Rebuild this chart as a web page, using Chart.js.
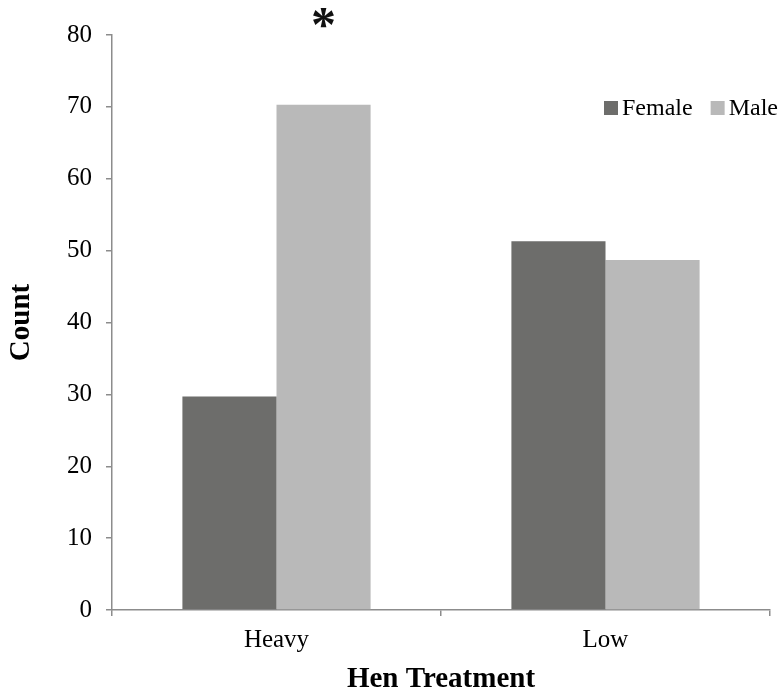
<!DOCTYPE html>
<html lang="en">
<head>
  <meta charset="UTF-8" />
  <title>Hen Treatment Count</title>
  <script src="https://cdn.jsdelivr.net/npm/chart.js"></script>
  <style>
    html, body { margin: 0; padding: 0; background: #fff; }
    #wrap { width: 780px; height: 691px; }
  </style>
</head>
<body>
  <div id="wrap"><canvas id="chart" width="780" height="691"></canvas></div>

  <script>
    // data
    const categories = ['Heavy', 'Low'];
    const femaleCounts = [29.7, 51.3];
    const maleCounts = [70.3, 48.7];
    const seriesNames = ['Female', 'Male'];
    const seriesColors = ['#6d6d6b', '#b9b9b9'];
    const markedBar = { dataset: 1, index: 0, text: '*' };

    const FONT = "'Liberation Serif', 'Times New Roman', serif";
    const AXIS_GRAY = '#8c8c8c';

    // legend drawn inside the plot, top right
    const legendPlugin = {
      id: 'insideLegend',
      afterDraw(chart) {
        const ctx = chart.ctx;
        ctx.save();
        ctx.font = '24px ' + FONT;
        ctx.textBaseline = 'middle';
        const y = 108;
        let x = 604;
        seriesNames.forEach((name, i) => {
          ctx.fillStyle = seriesColors[i];
          ctx.fillRect(x, y - 7, 14, 14);
          ctx.fillStyle = '#000';
          ctx.textAlign = 'left';
          ctx.fillText(name, x + 18, y + 1);
          x += ctx.measureText(name).width + 18 + 18;
        });
        ctx.restore();
      }
    };

    // significance star above the marked bar
    const starPlugin = {
      id: 'star',
      afterDatasetsDraw(chart) {
        const bar = chart.getDatasetMeta(markedBar.dataset).data[markedBar.index];
        const ctx = chart.ctx;
        ctx.save();
        ctx.font = 'bold 50px ' + FONT;
        ctx.textAlign = 'center';
        ctx.textBaseline = 'top';
        ctx.fillStyle = '#111';
        ctx.fillText(markedBar.text, bar.x, 3);
        ctx.restore();
      }
    };

    new Chart(document.getElementById('chart'), {
      type: 'bar',
      data: {
        labels: categories,
        datasets: [
          { label: seriesNames[0], data: femaleCounts, backgroundColor: seriesColors[0] },
          { label: seriesNames[1], data: maleCounts, backgroundColor: seriesColors[1] }
        ]
      },
      options: {
        responsive: false,
        animation: false,
        datasets: { bar: { categoryPercentage: 0.572, barPercentage: 1.0 } },
        layout: { padding: { top: 35, right: 10, left: 0, bottom: -10 } },
        plugins: {
          legend: { display: false },
          tooltip: { enabled: false }
        },
        scales: {
          x: {
            grid: { drawOnChartArea: false, color: AXIS_GRAY, lineWidth: 1.5, tickLength: 6, offset: true },
            border: { color: AXIS_GRAY, width: 1.5 },
            ticks: { color: '#000', font: { family: FONT, size: 25 }, padding: 9 },
            title: { display: true, text: 'Hen Treatment', color: '#000', font: { family: FONT, size: 29, weight: 'bold' }, padding: { top: 4, bottom: 4 } },
            afterFit(scale) { scale.height = 91; }
          },
          y: {
            min: 0,
            max: 80,
            ticks: { stepSize: 10, color: '#000', font: { family: FONT, size: 25 }, padding: 14 },
            grid: { drawOnChartArea: false, color: AXIS_GRAY, lineWidth: 1.5, tickLength: 6 },
            border: { color: AXIS_GRAY, width: 1.5 },
            title: { display: true, text: 'Count', color: '#000', font: { family: FONT, size: 29, weight: 'bold' }, padding: { bottom: 0 } },
            afterFit(scale) { scale.width = 112; }
          }
        }
      },
      plugins: [legendPlugin, starPlugin]
    });
  </script>
</body>
</html>
